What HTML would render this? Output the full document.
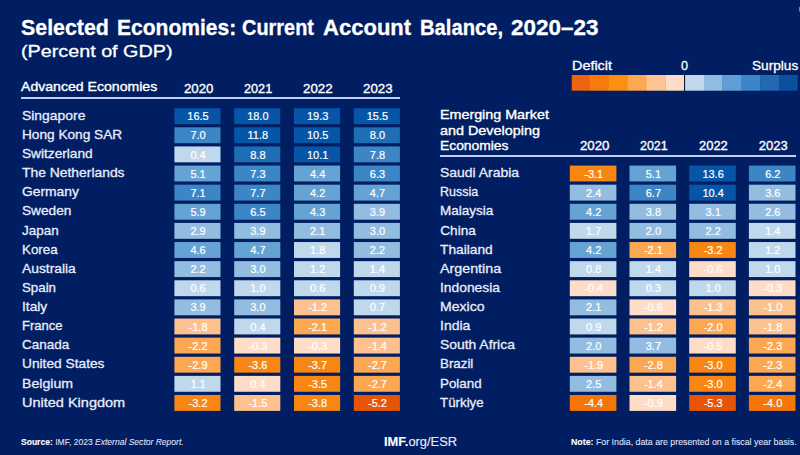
<!DOCTYPE html>
<html><head><meta charset="utf-8"><style>
html,body{margin:0;padding:0;}
body{width:800px;height:455px;overflow:hidden;background:#011e62;position:relative;font-family:"Liberation Sans",sans-serif;}
.t{position:absolute;white-space:nowrap;transform-origin:0 0;}
.b{position:absolute;}
</style></head><body>
<svg class="b" style="left:0;top:0" width="800" height="455" viewBox="0 0 800 455"><rect x="174.4" y="108.20" width="46.1" height="15.9" fill="#0655a6"/><rect x="234.2" y="108.20" width="46.1" height="15.9" fill="#0655a6"/><rect x="294.0" y="108.20" width="46.1" height="15.9" fill="#0655a6"/><rect x="353.8" y="108.20" width="46.1" height="15.9" fill="#0655a6"/><rect x="174.4" y="127.32" width="46.1" height="15.9" fill="#3d86c6"/><rect x="234.2" y="127.32" width="46.1" height="15.9" fill="#0655a6"/><rect x="294.0" y="127.32" width="46.1" height="15.9" fill="#0655a6"/><rect x="353.8" y="127.32" width="46.1" height="15.9" fill="#1f6db5"/><rect x="174.4" y="146.44" width="46.1" height="15.9" fill="#c0d8ec"/><rect x="234.2" y="146.44" width="46.1" height="15.9" fill="#1f6db5"/><rect x="294.0" y="146.44" width="46.1" height="15.9" fill="#0655a6"/><rect x="353.8" y="146.44" width="46.1" height="15.9" fill="#3d86c6"/><rect x="174.4" y="165.56" width="46.1" height="15.9" fill="#64a3d4"/><rect x="234.2" y="165.56" width="46.1" height="15.9" fill="#3d86c6"/><rect x="294.0" y="165.56" width="46.1" height="15.9" fill="#64a3d4"/><rect x="353.8" y="165.56" width="46.1" height="15.9" fill="#3d86c6"/><rect x="174.4" y="184.68" width="46.1" height="15.9" fill="#3d86c6"/><rect x="234.2" y="184.68" width="46.1" height="15.9" fill="#3d86c6"/><rect x="294.0" y="184.68" width="46.1" height="15.9" fill="#64a3d4"/><rect x="353.8" y="184.68" width="46.1" height="15.9" fill="#64a3d4"/><rect x="174.4" y="203.80" width="46.1" height="15.9" fill="#64a3d4"/><rect x="234.2" y="203.80" width="46.1" height="15.9" fill="#3d86c6"/><rect x="294.0" y="203.80" width="46.1" height="15.9" fill="#64a3d4"/><rect x="353.8" y="203.80" width="46.1" height="15.9" fill="#92bde0"/><rect x="174.4" y="222.92" width="46.1" height="15.9" fill="#92bde0"/><rect x="234.2" y="222.92" width="46.1" height="15.9" fill="#92bde0"/><rect x="294.0" y="222.92" width="46.1" height="15.9" fill="#92bde0"/><rect x="353.8" y="222.92" width="46.1" height="15.9" fill="#92bde0"/><rect x="174.4" y="242.04" width="46.1" height="15.9" fill="#64a3d4"/><rect x="234.2" y="242.04" width="46.1" height="15.9" fill="#64a3d4"/><rect x="294.0" y="242.04" width="46.1" height="15.9" fill="#c0d8ec"/><rect x="353.8" y="242.04" width="46.1" height="15.9" fill="#92bde0"/><rect x="174.4" y="261.16" width="46.1" height="15.9" fill="#92bde0"/><rect x="234.2" y="261.16" width="46.1" height="15.9" fill="#92bde0"/><rect x="294.0" y="261.16" width="46.1" height="15.9" fill="#c0d8ec"/><rect x="353.8" y="261.16" width="46.1" height="15.9" fill="#c0d8ec"/><rect x="174.4" y="280.28" width="46.1" height="15.9" fill="#c0d8ec"/><rect x="234.2" y="280.28" width="46.1" height="15.9" fill="#c0d8ec"/><rect x="294.0" y="280.28" width="46.1" height="15.9" fill="#c0d8ec"/><rect x="353.8" y="280.28" width="46.1" height="15.9" fill="#c0d8ec"/><rect x="174.4" y="299.40" width="46.1" height="15.9" fill="#92bde0"/><rect x="234.2" y="299.40" width="46.1" height="15.9" fill="#92bde0"/><rect x="294.0" y="299.40" width="46.1" height="15.9" fill="#fdc190"/><rect x="353.8" y="299.40" width="46.1" height="15.9" fill="#c0d8ec"/><rect x="174.4" y="318.52" width="46.1" height="15.9" fill="#fdc190"/><rect x="234.2" y="318.52" width="46.1" height="15.9" fill="#c0d8ec"/><rect x="294.0" y="318.52" width="46.1" height="15.9" fill="#fca852"/><rect x="353.8" y="318.52" width="46.1" height="15.9" fill="#fdc190"/><rect x="174.4" y="337.64" width="46.1" height="15.9" fill="#fca852"/><rect x="234.2" y="337.64" width="46.1" height="15.9" fill="#fddcc8"/><rect x="294.0" y="337.64" width="46.1" height="15.9" fill="#fddcc8"/><rect x="353.8" y="337.64" width="46.1" height="15.9" fill="#fdc190"/><rect x="174.4" y="356.76" width="46.1" height="15.9" fill="#fca852"/><rect x="234.2" y="356.76" width="46.1" height="15.9" fill="#f88613"/><rect x="294.0" y="356.76" width="46.1" height="15.9" fill="#f88613"/><rect x="353.8" y="356.76" width="46.1" height="15.9" fill="#fca852"/><rect x="174.4" y="375.88" width="46.1" height="15.9" fill="#c0d8ec"/><rect x="234.2" y="375.88" width="46.1" height="15.9" fill="#fddcc8"/><rect x="294.0" y="375.88" width="46.1" height="15.9" fill="#f88613"/><rect x="353.8" y="375.88" width="46.1" height="15.9" fill="#fca852"/><rect x="174.4" y="395.00" width="46.1" height="15.9" fill="#f88613"/><rect x="234.2" y="395.00" width="46.1" height="15.9" fill="#fdc190"/><rect x="294.0" y="395.00" width="46.1" height="15.9" fill="#f88613"/><rect x="353.8" y="395.00" width="46.1" height="15.9" fill="#e65506"/><rect x="569.8" y="165.56" width="46.6" height="15.9" fill="#f88613"/><rect x="629.5" y="165.56" width="46.6" height="15.9" fill="#64a3d4"/><rect x="689.2" y="165.56" width="46.6" height="15.9" fill="#0655a6"/><rect x="748.9" y="165.56" width="46.6" height="15.9" fill="#3d86c6"/><rect x="569.8" y="184.68" width="46.6" height="15.9" fill="#92bde0"/><rect x="629.5" y="184.68" width="46.6" height="15.9" fill="#3d86c6"/><rect x="689.2" y="184.68" width="46.6" height="15.9" fill="#0655a6"/><rect x="748.9" y="184.68" width="46.6" height="15.9" fill="#92bde0"/><rect x="569.8" y="203.80" width="46.6" height="15.9" fill="#64a3d4"/><rect x="629.5" y="203.80" width="46.6" height="15.9" fill="#92bde0"/><rect x="689.2" y="203.80" width="46.6" height="15.9" fill="#92bde0"/><rect x="748.9" y="203.80" width="46.6" height="15.9" fill="#92bde0"/><rect x="569.8" y="222.92" width="46.6" height="15.9" fill="#c0d8ec"/><rect x="629.5" y="222.92" width="46.6" height="15.9" fill="#92bde0"/><rect x="689.2" y="222.92" width="46.6" height="15.9" fill="#92bde0"/><rect x="748.9" y="222.92" width="46.6" height="15.9" fill="#c0d8ec"/><rect x="569.8" y="242.04" width="46.6" height="15.9" fill="#64a3d4"/><rect x="629.5" y="242.04" width="46.6" height="15.9" fill="#fca852"/><rect x="689.2" y="242.04" width="46.6" height="15.9" fill="#f88613"/><rect x="748.9" y="242.04" width="46.6" height="15.9" fill="#c0d8ec"/><rect x="569.8" y="261.16" width="46.6" height="15.9" fill="#c0d8ec"/><rect x="629.5" y="261.16" width="46.6" height="15.9" fill="#c0d8ec"/><rect x="689.2" y="261.16" width="46.6" height="15.9" fill="#fddcc8"/><rect x="748.9" y="261.16" width="46.6" height="15.9" fill="#c0d8ec"/><rect x="569.8" y="280.28" width="46.6" height="15.9" fill="#fddcc8"/><rect x="629.5" y="280.28" width="46.6" height="15.9" fill="#c0d8ec"/><rect x="689.2" y="280.28" width="46.6" height="15.9" fill="#c0d8ec"/><rect x="748.9" y="280.28" width="46.6" height="15.9" fill="#fddcc8"/><rect x="569.8" y="299.40" width="46.6" height="15.9" fill="#92bde0"/><rect x="629.5" y="299.40" width="46.6" height="15.9" fill="#fddcc8"/><rect x="689.2" y="299.40" width="46.6" height="15.9" fill="#fdc190"/><rect x="748.9" y="299.40" width="46.6" height="15.9" fill="#fdc190"/><rect x="569.8" y="318.52" width="46.6" height="15.9" fill="#c0d8ec"/><rect x="629.5" y="318.52" width="46.6" height="15.9" fill="#fdc190"/><rect x="689.2" y="318.52" width="46.6" height="15.9" fill="#fca852"/><rect x="748.9" y="318.52" width="46.6" height="15.9" fill="#fdc190"/><rect x="569.8" y="337.64" width="46.6" height="15.9" fill="#92bde0"/><rect x="629.5" y="337.64" width="46.6" height="15.9" fill="#92bde0"/><rect x="689.2" y="337.64" width="46.6" height="15.9" fill="#fddcc8"/><rect x="748.9" y="337.64" width="46.6" height="15.9" fill="#fca852"/><rect x="569.8" y="356.76" width="46.6" height="15.9" fill="#fdc190"/><rect x="629.5" y="356.76" width="46.6" height="15.9" fill="#fca852"/><rect x="689.2" y="356.76" width="46.6" height="15.9" fill="#f88613"/><rect x="748.9" y="356.76" width="46.6" height="15.9" fill="#fca852"/><rect x="569.8" y="375.88" width="46.6" height="15.9" fill="#92bde0"/><rect x="629.5" y="375.88" width="46.6" height="15.9" fill="#fdc190"/><rect x="689.2" y="375.88" width="46.6" height="15.9" fill="#f88613"/><rect x="748.9" y="375.88" width="46.6" height="15.9" fill="#fca852"/><rect x="569.8" y="395.00" width="46.6" height="15.9" fill="#f47508"/><rect x="629.5" y="395.00" width="46.6" height="15.9" fill="#fddcc8"/><rect x="689.2" y="395.00" width="46.6" height="15.9" fill="#e65506"/><rect x="748.9" y="395.00" width="46.6" height="15.9" fill="#f47508"/><rect x="571.75" y="75" width="18.30" height="15.7" fill="#ec6410"/><rect x="589.75" y="75" width="19.35" height="15.7" fill="#f67a0c"/><rect x="608.8" y="75" width="19.20" height="15.7" fill="#fa9012"/><rect x="627.7" y="75" width="19.30" height="15.7" fill="#fca852"/><rect x="646.7" y="75" width="19.10" height="15.7" fill="#fdc595"/><rect x="665.5" y="75" width="19.30" height="15.7" fill="#fddcc8"/><rect x="684.5" y="75" width="19.80" height="15.7" fill="#c2d8ee"/><rect x="704" y="75" width="18.70" height="15.7" fill="#8fbde2"/><rect x="722.4" y="75" width="19.40" height="15.7" fill="#5ea0d6"/><rect x="741.5" y="75" width="19.00" height="15.7" fill="#3a86c8"/><rect x="760.2" y="75" width="19.10" height="15.7" fill="#2568b2"/><rect x="779" y="75" width="18.70" height="15.7" fill="#0b509d"/><rect x="684" y="74.6" width="1.1" height="16.4" fill="#161a2e"/><rect x="798.9" y="7" width="1.1" height="4.5" fill="#6d80c4"/></svg>
<div class="t" style="left:20.80px;top:16.53px;font-size:22px;line-height:22px;font-weight:bold;transform:scale(0.9715,1.000);-webkit-text-stroke:0.3px #ffffff;color:#ffffff">Selected</div>
<div class="t" style="left:117.00px;top:16.53px;font-size:22px;line-height:22px;font-weight:bold;transform:scale(0.9560,1.000);-webkit-text-stroke:0.3px #ffffff;color:#ffffff">Economies:</div>
<div class="t" style="left:241.75px;top:16.53px;font-size:22px;line-height:22px;font-weight:bold;transform:scale(0.9053,1.000);-webkit-text-stroke:0.3px #ffffff;color:#ffffff">Current</div>
<div class="t" style="left:323.10px;top:16.53px;font-size:22px;line-height:22px;font-weight:bold;-webkit-text-stroke:0.3px #ffffff;color:#ffffff">Account</div>
<div class="t" style="left:419.90px;top:16.53px;font-size:22px;line-height:22px;font-weight:bold;transform:scale(0.9196,1.000);-webkit-text-stroke:0.3px #ffffff;color:#ffffff">Balance,</div>
<div class="t" style="left:510.60px;top:16.53px;font-size:22px;line-height:22px;font-weight:bold;transform:scale(1.0206,1.000);-webkit-text-stroke:0.3px #ffffff;color:#ffffff">2020–23</div>
<div class="t" style="left:21.00px;top:42.91px;font-size:17px;line-height:17px;transform:scale(1.1619,1.000);-webkit-text-stroke:0.3px #ffffff;color:#ffffff">(Percent of GDP)</div>
<div class="t" style="left:21.30px;top:80.40px;font-size:13px;line-height:13px;transform:scale(1.0832,1.000);-webkit-text-stroke:0.35px #ffffff;color:#ffffff">Advanced Economies</div>
<div class="t" style="left:183.80px;top:81.60px;font-size:13px;line-height:13px;transform:scale(1.0164,1.000);-webkit-text-stroke:0.35px #ffffff;color:#ffffff">2020</div>
<div class="t" style="left:243.50px;top:81.60px;font-size:13px;line-height:13px;transform:scale(0.9749,1.000);-webkit-text-stroke:0.35px #ffffff;color:#ffffff">2021</div>
<div class="t" style="left:303.20px;top:81.60px;font-size:13px;line-height:13px;transform:scale(1.0233,1.000);-webkit-text-stroke:0.35px #ffffff;color:#ffffff">2022</div>
<div class="t" style="left:363.20px;top:81.60px;font-size:13px;line-height:13px;transform:scale(1.0233,1.000);-webkit-text-stroke:0.35px #ffffff;color:#ffffff">2023</div>
<div class="b" style="left:21px;top:97.35px;width:379px;height:1.8px;background:#c0cdf5"></div>
<div class="t" style="left:22.30px;top:108.89px;font-size:13.6px;line-height:13.6px;transform:scale(1.0223,1.000);-webkit-text-stroke:0.3px #e8edfb;color:#e8edfb">Singapore</div>
<div class="t" style="left:187.34px;top:111.29px;font-size:11px;line-height:11px;-webkit-text-stroke:0.2px #ffffff;color:#ffffff">16.5</div>
<div class="t" style="left:247.14px;top:111.29px;font-size:11px;line-height:11px;-webkit-text-stroke:0.2px #ffffff;color:#ffffff">18.0</div>
<div class="t" style="left:306.94px;top:111.29px;font-size:11px;line-height:11px;-webkit-text-stroke:0.2px #ffffff;color:#ffffff">19.3</div>
<div class="t" style="left:366.74px;top:111.29px;font-size:11px;line-height:11px;-webkit-text-stroke:0.2px #ffffff;color:#ffffff">15.5</div>
<div class="t" style="left:22.30px;top:128.01px;font-size:13.6px;line-height:13.6px;transform:scale(1.0041,1.000);-webkit-text-stroke:0.3px #e8edfb;color:#e8edfb">Hong Kong SAR</div>
<div class="t" style="left:190.41px;top:130.41px;font-size:11px;line-height:11px;-webkit-text-stroke:0.2px #ffffff;color:#ffffff">7.0</div>
<div class="t" style="left:247.55px;top:130.41px;font-size:11px;line-height:11px;-webkit-text-stroke:0.2px #ffffff;color:#ffffff">11.8</div>
<div class="t" style="left:306.94px;top:130.41px;font-size:11px;line-height:11px;-webkit-text-stroke:0.2px #ffffff;color:#ffffff">10.5</div>
<div class="t" style="left:369.81px;top:130.41px;font-size:11px;line-height:11px;-webkit-text-stroke:0.2px #ffffff;color:#ffffff">8.0</div>
<div class="t" style="left:22.30px;top:147.13px;font-size:13.6px;line-height:13.6px;transform:scale(1.0055,1.000);-webkit-text-stroke:0.3px #e8edfb;color:#e8edfb">Switzerland</div>
<div class="t" style="left:190.41px;top:149.53px;font-size:11px;line-height:11px;-webkit-text-stroke:0.2px #ffffff;color:#ffffff">0.4</div>
<div class="t" style="left:250.21px;top:149.53px;font-size:11px;line-height:11px;-webkit-text-stroke:0.2px #ffffff;color:#ffffff">8.8</div>
<div class="t" style="left:306.94px;top:149.53px;font-size:11px;line-height:11px;-webkit-text-stroke:0.2px #ffffff;color:#ffffff">10.1</div>
<div class="t" style="left:369.81px;top:149.53px;font-size:11px;line-height:11px;-webkit-text-stroke:0.2px #ffffff;color:#ffffff">7.8</div>
<div class="t" style="left:22.30px;top:166.25px;font-size:13.6px;line-height:13.6px;transform:scale(1.0205,1.000);-webkit-text-stroke:0.3px #e8edfb;color:#e8edfb">The Netherlands</div>
<div class="t" style="left:190.41px;top:168.65px;font-size:11px;line-height:11px;-webkit-text-stroke:0.2px #ffffff;color:#ffffff">5.1</div>
<div class="t" style="left:250.21px;top:168.65px;font-size:11px;line-height:11px;-webkit-text-stroke:0.2px #ffffff;color:#ffffff">7.3</div>
<div class="t" style="left:310.01px;top:168.65px;font-size:11px;line-height:11px;-webkit-text-stroke:0.2px #ffffff;color:#ffffff">4.4</div>
<div class="t" style="left:369.81px;top:168.65px;font-size:11px;line-height:11px;-webkit-text-stroke:0.2px #ffffff;color:#ffffff">6.3</div>
<div class="t" style="left:22.30px;top:185.37px;font-size:13.6px;line-height:13.6px;transform:scale(1.0173,1.000);-webkit-text-stroke:0.3px #e8edfb;color:#e8edfb">Germany</div>
<div class="t" style="left:190.41px;top:187.77px;font-size:11px;line-height:11px;-webkit-text-stroke:0.2px #ffffff;color:#ffffff">7.1</div>
<div class="t" style="left:250.21px;top:187.77px;font-size:11px;line-height:11px;-webkit-text-stroke:0.2px #ffffff;color:#ffffff">7.7</div>
<div class="t" style="left:310.01px;top:187.77px;font-size:11px;line-height:11px;-webkit-text-stroke:0.2px #ffffff;color:#ffffff">4.2</div>
<div class="t" style="left:369.81px;top:187.77px;font-size:11px;line-height:11px;-webkit-text-stroke:0.2px #ffffff;color:#ffffff">4.7</div>
<div class="t" style="left:22.30px;top:204.49px;font-size:13.6px;line-height:13.6px;transform:scale(1.0048,1.000);-webkit-text-stroke:0.3px #e8edfb;color:#e8edfb">Sweden</div>
<div class="t" style="left:190.41px;top:206.89px;font-size:11px;line-height:11px;-webkit-text-stroke:0.2px #ffffff;color:#ffffff">5.9</div>
<div class="t" style="left:250.21px;top:206.89px;font-size:11px;line-height:11px;-webkit-text-stroke:0.2px #ffffff;color:#ffffff">6.5</div>
<div class="t" style="left:310.01px;top:206.89px;font-size:11px;line-height:11px;-webkit-text-stroke:0.2px #ffffff;color:#ffffff">4.3</div>
<div class="t" style="left:369.81px;top:206.89px;font-size:11px;line-height:11px;-webkit-text-stroke:0.2px #ffffff;color:#ffffff">3.9</div>
<div class="t" style="left:22.30px;top:223.61px;font-size:13.6px;line-height:13.6px;transform:scale(0.9903,1.000);-webkit-text-stroke:0.3px #e8edfb;color:#e8edfb">Japan</div>
<div class="t" style="left:190.41px;top:226.01px;font-size:11px;line-height:11px;-webkit-text-stroke:0.2px #ffffff;color:#ffffff">2.9</div>
<div class="t" style="left:250.21px;top:226.01px;font-size:11px;line-height:11px;-webkit-text-stroke:0.2px #ffffff;color:#ffffff">3.9</div>
<div class="t" style="left:310.01px;top:226.01px;font-size:11px;line-height:11px;-webkit-text-stroke:0.2px #ffffff;color:#ffffff">2.1</div>
<div class="t" style="left:369.81px;top:226.01px;font-size:11px;line-height:11px;-webkit-text-stroke:0.2px #ffffff;color:#ffffff">3.0</div>
<div class="t" style="left:22.30px;top:242.73px;font-size:13.6px;line-height:13.6px;transform:scale(0.9804,1.000);-webkit-text-stroke:0.3px #e8edfb;color:#e8edfb">Korea</div>
<div class="t" style="left:190.41px;top:245.13px;font-size:11px;line-height:11px;-webkit-text-stroke:0.2px #ffffff;color:#ffffff">4.6</div>
<div class="t" style="left:250.21px;top:245.13px;font-size:11px;line-height:11px;-webkit-text-stroke:0.2px #ffffff;color:#ffffff">4.7</div>
<div class="t" style="left:310.01px;top:245.13px;font-size:11px;line-height:11px;-webkit-text-stroke:0.2px #ffffff;color:#ffffff">1.8</div>
<div class="t" style="left:369.81px;top:245.13px;font-size:11px;line-height:11px;-webkit-text-stroke:0.2px #ffffff;color:#ffffff">2.2</div>
<div class="t" style="left:22.30px;top:261.85px;font-size:13.6px;line-height:13.6px;transform:scale(1.0163,1.000);-webkit-text-stroke:0.3px #e8edfb;color:#e8edfb">Australia</div>
<div class="t" style="left:190.41px;top:264.25px;font-size:11px;line-height:11px;-webkit-text-stroke:0.2px #ffffff;color:#ffffff">2.2</div>
<div class="t" style="left:250.21px;top:264.25px;font-size:11px;line-height:11px;-webkit-text-stroke:0.2px #ffffff;color:#ffffff">3.0</div>
<div class="t" style="left:310.01px;top:264.25px;font-size:11px;line-height:11px;-webkit-text-stroke:0.2px #ffffff;color:#ffffff">1.2</div>
<div class="t" style="left:369.81px;top:264.25px;font-size:11px;line-height:11px;-webkit-text-stroke:0.2px #ffffff;color:#ffffff">1.4</div>
<div class="t" style="left:22.30px;top:280.97px;font-size:13.6px;line-height:13.6px;transform:scale(0.9775,1.000);-webkit-text-stroke:0.3px #e8edfb;color:#e8edfb">Spain</div>
<div class="t" style="left:190.41px;top:283.37px;font-size:11px;line-height:11px;-webkit-text-stroke:0.2px #ffffff;color:#ffffff">0.6</div>
<div class="t" style="left:250.21px;top:283.37px;font-size:11px;line-height:11px;-webkit-text-stroke:0.2px #ffffff;color:#ffffff">1.0</div>
<div class="t" style="left:310.01px;top:283.37px;font-size:11px;line-height:11px;-webkit-text-stroke:0.2px #ffffff;color:#ffffff">0.6</div>
<div class="t" style="left:369.81px;top:283.37px;font-size:11px;line-height:11px;-webkit-text-stroke:0.2px #ffffff;color:#ffffff">0.9</div>
<div class="t" style="left:22.30px;top:300.09px;font-size:13.6px;line-height:13.6px;transform:scale(1.0098,1.000);-webkit-text-stroke:0.3px #e8edfb;color:#e8edfb">Italy</div>
<div class="t" style="left:190.41px;top:302.49px;font-size:11px;line-height:11px;-webkit-text-stroke:0.2px #ffffff;color:#ffffff">3.9</div>
<div class="t" style="left:250.21px;top:302.49px;font-size:11px;line-height:11px;-webkit-text-stroke:0.2px #ffffff;color:#ffffff">3.0</div>
<div class="t" style="left:308.18px;top:302.49px;font-size:11px;line-height:11px;-webkit-text-stroke:0.2px #ffffff;color:#ffffff">-1.2</div>
<div class="t" style="left:369.81px;top:302.49px;font-size:11px;line-height:11px;-webkit-text-stroke:0.2px #ffffff;color:#ffffff">0.7</div>
<div class="t" style="left:22.30px;top:319.21px;font-size:13.6px;line-height:13.6px;transform:scale(0.9591,1.000);-webkit-text-stroke:0.3px #e8edfb;color:#e8edfb">France</div>
<div class="t" style="left:188.58px;top:321.61px;font-size:11px;line-height:11px;-webkit-text-stroke:0.2px #ffffff;color:#ffffff">-1.8</div>
<div class="t" style="left:250.21px;top:321.61px;font-size:11px;line-height:11px;-webkit-text-stroke:0.2px #ffffff;color:#ffffff">0.4</div>
<div class="t" style="left:308.18px;top:321.61px;font-size:11px;line-height:11px;-webkit-text-stroke:0.2px #ffffff;color:#ffffff">-2.1</div>
<div class="t" style="left:367.98px;top:321.61px;font-size:11px;line-height:11px;-webkit-text-stroke:0.2px #ffffff;color:#ffffff">-1.2</div>
<div class="t" style="left:22.30px;top:338.33px;font-size:13.6px;line-height:13.6px;transform:scale(0.9902,1.000);-webkit-text-stroke:0.3px #e8edfb;color:#e8edfb">Canada</div>
<div class="t" style="left:188.58px;top:340.73px;font-size:11px;line-height:11px;-webkit-text-stroke:0.2px #ffffff;color:#ffffff">-2.2</div>
<div class="t" style="left:248.38px;top:340.73px;font-size:11px;line-height:11px;-webkit-text-stroke:0.2px #ffffff;color:#ffffff">-0.3</div>
<div class="t" style="left:308.18px;top:340.73px;font-size:11px;line-height:11px;-webkit-text-stroke:0.2px #ffffff;color:#ffffff">-0.3</div>
<div class="t" style="left:367.98px;top:340.73px;font-size:11px;line-height:11px;-webkit-text-stroke:0.2px #ffffff;color:#ffffff">-1.4</div>
<div class="t" style="left:22.30px;top:357.45px;font-size:13.6px;line-height:13.6px;transform:scale(1.0106,1.000);-webkit-text-stroke:0.3px #e8edfb;color:#e8edfb">United States</div>
<div class="t" style="left:188.58px;top:359.85px;font-size:11px;line-height:11px;-webkit-text-stroke:0.2px #ffffff;color:#ffffff">-2.9</div>
<div class="t" style="left:248.38px;top:359.85px;font-size:11px;line-height:11px;-webkit-text-stroke:0.2px #ffffff;color:#ffffff">-3.6</div>
<div class="t" style="left:308.18px;top:359.85px;font-size:11px;line-height:11px;-webkit-text-stroke:0.2px #ffffff;color:#ffffff">-3.7</div>
<div class="t" style="left:367.98px;top:359.85px;font-size:11px;line-height:11px;-webkit-text-stroke:0.2px #ffffff;color:#ffffff">-2.7</div>
<div class="t" style="left:22.30px;top:376.57px;font-size:13.6px;line-height:13.6px;transform:scale(1.0381,1.000);-webkit-text-stroke:0.3px #e8edfb;color:#e8edfb">Belgium</div>
<div class="t" style="left:190.41px;top:378.97px;font-size:11px;line-height:11px;-webkit-text-stroke:0.2px #ffffff;color:#ffffff">1.1</div>
<div class="t" style="left:250.21px;top:378.97px;font-size:11px;line-height:11px;-webkit-text-stroke:0.2px #ffffff;color:#ffffff">0.4</div>
<div class="t" style="left:308.18px;top:378.97px;font-size:11px;line-height:11px;-webkit-text-stroke:0.2px #ffffff;color:#ffffff">-3.5</div>
<div class="t" style="left:367.98px;top:378.97px;font-size:11px;line-height:11px;-webkit-text-stroke:0.2px #ffffff;color:#ffffff">-2.7</div>
<div class="t" style="left:22.30px;top:395.69px;font-size:13.6px;line-height:13.6px;transform:scale(1.0665,1.000);-webkit-text-stroke:0.3px #e8edfb;color:#e8edfb">United Kingdom</div>
<div class="t" style="left:188.58px;top:398.09px;font-size:11px;line-height:11px;-webkit-text-stroke:0.2px #ffffff;color:#ffffff">-3.2</div>
<div class="t" style="left:248.38px;top:398.09px;font-size:11px;line-height:11px;-webkit-text-stroke:0.2px #ffffff;color:#ffffff">-1.5</div>
<div class="t" style="left:308.18px;top:398.09px;font-size:11px;line-height:11px;-webkit-text-stroke:0.2px #ffffff;color:#ffffff">-3.8</div>
<div class="t" style="left:367.98px;top:398.09px;font-size:11px;line-height:11px;-webkit-text-stroke:0.2px #ffffff;color:#ffffff">-5.2</div>
<div class="t" style="left:440.30px;top:108.30px;font-size:13px;line-height:13px;transform:scale(1.1001,1.000);-webkit-text-stroke:0.35px #ffffff;color:#ffffff">Emerging Market</div>
<div class="t" style="left:440.30px;top:123.65px;font-size:13px;line-height:13px;transform:scale(1.1057,1.000);-webkit-text-stroke:0.35px #ffffff;color:#ffffff">and Developing</div>
<div class="t" style="left:440.30px;top:139.00px;font-size:13px;line-height:13px;transform:scale(1.0650,1.000);-webkit-text-stroke:0.35px #ffffff;color:#ffffff">Economies</div>
<div class="t" style="left:579.75px;top:139.10px;font-size:13px;line-height:13px;transform:scale(1.0182,1.000);-webkit-text-stroke:0.35px #ffffff;color:#ffffff">2020</div>
<div class="t" style="left:640.00px;top:139.10px;font-size:13px;line-height:13px;transform:scale(0.9542,1.000);-webkit-text-stroke:0.35px #ffffff;color:#ffffff">2021</div>
<div class="t" style="left:699.20px;top:139.10px;font-size:13px;line-height:13px;transform:scale(0.9957,1.000);-webkit-text-stroke:0.35px #ffffff;color:#ffffff">2022</div>
<div class="t" style="left:758.80px;top:139.10px;font-size:13px;line-height:13px;-webkit-text-stroke:0.35px #ffffff;color:#ffffff">2023</div>
<div class="b" style="left:439.6px;top:154.95px;width:356.4px;height:1.8px;background:#c0cdf5"></div>
<div class="t" style="left:440.30px;top:166.25px;font-size:13.6px;line-height:13.6px;transform:scale(1.0253,1.000);-webkit-text-stroke:0.3px #e8edfb;color:#e8edfb">Saudi Arabia</div>
<div class="t" style="left:584.23px;top:168.65px;font-size:11px;line-height:11px;-webkit-text-stroke:0.2px #ffffff;color:#ffffff">-3.1</div>
<div class="t" style="left:645.75px;top:168.65px;font-size:11px;line-height:11px;-webkit-text-stroke:0.2px #ffffff;color:#ffffff">5.1</div>
<div class="t" style="left:702.39px;top:168.65px;font-size:11px;line-height:11px;-webkit-text-stroke:0.2px #ffffff;color:#ffffff">13.6</div>
<div class="t" style="left:765.15px;top:168.65px;font-size:11px;line-height:11px;-webkit-text-stroke:0.2px #ffffff;color:#ffffff">6.2</div>
<div class="t" style="left:440.30px;top:185.37px;font-size:13.6px;line-height:13.6px;transform:scale(0.9187,1.000);-webkit-text-stroke:0.3px #e8edfb;color:#e8edfb">Russia</div>
<div class="t" style="left:586.05px;top:187.77px;font-size:11px;line-height:11px;-webkit-text-stroke:0.2px #ffffff;color:#ffffff">2.4</div>
<div class="t" style="left:645.75px;top:187.77px;font-size:11px;line-height:11px;-webkit-text-stroke:0.2px #ffffff;color:#ffffff">6.7</div>
<div class="t" style="left:702.39px;top:187.77px;font-size:11px;line-height:11px;-webkit-text-stroke:0.2px #ffffff;color:#ffffff">10.4</div>
<div class="t" style="left:765.15px;top:187.77px;font-size:11px;line-height:11px;-webkit-text-stroke:0.2px #ffffff;color:#ffffff">3.6</div>
<div class="t" style="left:440.30px;top:204.49px;font-size:13.6px;line-height:13.6px;transform:scale(0.9928,1.000);-webkit-text-stroke:0.3px #e8edfb;color:#e8edfb">Malaysia</div>
<div class="t" style="left:586.05px;top:206.89px;font-size:11px;line-height:11px;-webkit-text-stroke:0.2px #ffffff;color:#ffffff">4.2</div>
<div class="t" style="left:645.75px;top:206.89px;font-size:11px;line-height:11px;-webkit-text-stroke:0.2px #ffffff;color:#ffffff">3.8</div>
<div class="t" style="left:705.46px;top:206.89px;font-size:11px;line-height:11px;-webkit-text-stroke:0.2px #ffffff;color:#ffffff">3.1</div>
<div class="t" style="left:765.15px;top:206.89px;font-size:11px;line-height:11px;-webkit-text-stroke:0.2px #ffffff;color:#ffffff">2.6</div>
<div class="t" style="left:440.30px;top:223.61px;font-size:13.6px;line-height:13.6px;-webkit-text-stroke:0.3px #e8edfb;color:#e8edfb">China</div>
<div class="t" style="left:586.05px;top:226.01px;font-size:11px;line-height:11px;-webkit-text-stroke:0.2px #ffffff;color:#ffffff">1.7</div>
<div class="t" style="left:645.75px;top:226.01px;font-size:11px;line-height:11px;-webkit-text-stroke:0.2px #ffffff;color:#ffffff">2.0</div>
<div class="t" style="left:705.46px;top:226.01px;font-size:11px;line-height:11px;-webkit-text-stroke:0.2px #ffffff;color:#ffffff">2.2</div>
<div class="t" style="left:765.15px;top:226.01px;font-size:11px;line-height:11px;-webkit-text-stroke:0.2px #ffffff;color:#ffffff">1.4</div>
<div class="t" style="left:440.30px;top:242.73px;font-size:13.6px;line-height:13.6px;transform:scale(1.0104,1.000);-webkit-text-stroke:0.3px #e8edfb;color:#e8edfb">Thailand</div>
<div class="t" style="left:586.05px;top:245.13px;font-size:11px;line-height:11px;-webkit-text-stroke:0.2px #ffffff;color:#ffffff">4.2</div>
<div class="t" style="left:643.93px;top:245.13px;font-size:11px;line-height:11px;-webkit-text-stroke:0.2px #ffffff;color:#ffffff">-2.1</div>
<div class="t" style="left:703.63px;top:245.13px;font-size:11px;line-height:11px;-webkit-text-stroke:0.2px #ffffff;color:#ffffff">-3.2</div>
<div class="t" style="left:765.15px;top:245.13px;font-size:11px;line-height:11px;-webkit-text-stroke:0.2px #ffffff;color:#ffffff">1.2</div>
<div class="t" style="left:440.30px;top:261.85px;font-size:13.6px;line-height:13.6px;transform:scale(1.0508,1.000);-webkit-text-stroke:0.3px #e8edfb;color:#e8edfb">Argentina</div>
<div class="t" style="left:586.05px;top:264.25px;font-size:11px;line-height:11px;-webkit-text-stroke:0.2px #ffffff;color:#ffffff">0.8</div>
<div class="t" style="left:645.75px;top:264.25px;font-size:11px;line-height:11px;-webkit-text-stroke:0.2px #ffffff;color:#ffffff">1.4</div>
<div class="t" style="left:703.63px;top:264.25px;font-size:11px;line-height:11px;-webkit-text-stroke:0.2px #ffffff;color:#ffffff">-0.6</div>
<div class="t" style="left:765.15px;top:264.25px;font-size:11px;line-height:11px;-webkit-text-stroke:0.2px #ffffff;color:#ffffff">1.0</div>
<div class="t" style="left:440.30px;top:280.97px;font-size:13.6px;line-height:13.6px;transform:scale(1.0171,1.000);-webkit-text-stroke:0.3px #e8edfb;color:#e8edfb">Indonesia</div>
<div class="t" style="left:584.23px;top:283.37px;font-size:11px;line-height:11px;-webkit-text-stroke:0.2px #ffffff;color:#ffffff">-0.4</div>
<div class="t" style="left:645.75px;top:283.37px;font-size:11px;line-height:11px;-webkit-text-stroke:0.2px #ffffff;color:#ffffff">0.3</div>
<div class="t" style="left:705.46px;top:283.37px;font-size:11px;line-height:11px;-webkit-text-stroke:0.2px #ffffff;color:#ffffff">1.0</div>
<div class="t" style="left:763.33px;top:283.37px;font-size:11px;line-height:11px;-webkit-text-stroke:0.2px #ffffff;color:#ffffff">-0.3</div>
<div class="t" style="left:440.30px;top:300.09px;font-size:13.6px;line-height:13.6px;transform:scale(1.0353,1.000);-webkit-text-stroke:0.3px #e8edfb;color:#e8edfb">Mexico</div>
<div class="t" style="left:586.05px;top:302.49px;font-size:11px;line-height:11px;-webkit-text-stroke:0.2px #ffffff;color:#ffffff">2.1</div>
<div class="t" style="left:643.93px;top:302.49px;font-size:11px;line-height:11px;-webkit-text-stroke:0.2px #ffffff;color:#ffffff">-0.6</div>
<div class="t" style="left:703.63px;top:302.49px;font-size:11px;line-height:11px;-webkit-text-stroke:0.2px #ffffff;color:#ffffff">-1.3</div>
<div class="t" style="left:763.33px;top:302.49px;font-size:11px;line-height:11px;-webkit-text-stroke:0.2px #ffffff;color:#ffffff">-1.0</div>
<div class="t" style="left:440.30px;top:319.21px;font-size:13.6px;line-height:13.6px;transform:scale(1.0267,1.000);-webkit-text-stroke:0.3px #e8edfb;color:#e8edfb">India</div>
<div class="t" style="left:586.05px;top:321.61px;font-size:11px;line-height:11px;-webkit-text-stroke:0.2px #ffffff;color:#ffffff">0.9</div>
<div class="t" style="left:643.93px;top:321.61px;font-size:11px;line-height:11px;-webkit-text-stroke:0.2px #ffffff;color:#ffffff">-1.2</div>
<div class="t" style="left:703.63px;top:321.61px;font-size:11px;line-height:11px;-webkit-text-stroke:0.2px #ffffff;color:#ffffff">-2.0</div>
<div class="t" style="left:763.33px;top:321.61px;font-size:11px;line-height:11px;-webkit-text-stroke:0.2px #ffffff;color:#ffffff">-1.8</div>
<div class="t" style="left:440.30px;top:338.33px;font-size:13.6px;line-height:13.6px;transform:scale(1.0213,1.000);-webkit-text-stroke:0.3px #e8edfb;color:#e8edfb">South Africa</div>
<div class="t" style="left:586.05px;top:340.73px;font-size:11px;line-height:11px;-webkit-text-stroke:0.2px #ffffff;color:#ffffff">2.0</div>
<div class="t" style="left:645.75px;top:340.73px;font-size:11px;line-height:11px;-webkit-text-stroke:0.2px #ffffff;color:#ffffff">3.7</div>
<div class="t" style="left:703.63px;top:340.73px;font-size:11px;line-height:11px;-webkit-text-stroke:0.2px #ffffff;color:#ffffff">-0.5</div>
<div class="t" style="left:763.33px;top:340.73px;font-size:11px;line-height:11px;-webkit-text-stroke:0.2px #ffffff;color:#ffffff">-2.3</div>
<div class="t" style="left:440.30px;top:357.45px;font-size:13.6px;line-height:13.6px;transform:scale(0.9794,1.000);-webkit-text-stroke:0.3px #e8edfb;color:#e8edfb">Brazil</div>
<div class="t" style="left:584.23px;top:359.85px;font-size:11px;line-height:11px;-webkit-text-stroke:0.2px #ffffff;color:#ffffff">-1.9</div>
<div class="t" style="left:643.93px;top:359.85px;font-size:11px;line-height:11px;-webkit-text-stroke:0.2px #ffffff;color:#ffffff">-2.8</div>
<div class="t" style="left:703.63px;top:359.85px;font-size:11px;line-height:11px;-webkit-text-stroke:0.2px #ffffff;color:#ffffff">-3.0</div>
<div class="t" style="left:763.33px;top:359.85px;font-size:11px;line-height:11px;-webkit-text-stroke:0.2px #ffffff;color:#ffffff">-2.3</div>
<div class="t" style="left:440.30px;top:376.57px;font-size:13.6px;line-height:13.6px;transform:scale(0.9820,1.000);-webkit-text-stroke:0.3px #e8edfb;color:#e8edfb">Poland</div>
<div class="t" style="left:586.05px;top:378.97px;font-size:11px;line-height:11px;-webkit-text-stroke:0.2px #ffffff;color:#ffffff">2.5</div>
<div class="t" style="left:643.93px;top:378.97px;font-size:11px;line-height:11px;-webkit-text-stroke:0.2px #ffffff;color:#ffffff">-1.4</div>
<div class="t" style="left:703.63px;top:378.97px;font-size:11px;line-height:11px;-webkit-text-stroke:0.2px #ffffff;color:#ffffff">-3.0</div>
<div class="t" style="left:763.33px;top:378.97px;font-size:11px;line-height:11px;-webkit-text-stroke:0.2px #ffffff;color:#ffffff">-2.4</div>
<div class="t" style="left:440.30px;top:395.69px;font-size:13.6px;line-height:13.6px;transform:scale(0.9804,1.000);-webkit-text-stroke:0.3px #e8edfb;color:#e8edfb">Türkiye</div>
<div class="t" style="left:584.23px;top:398.09px;font-size:11px;line-height:11px;-webkit-text-stroke:0.2px #ffffff;color:#ffffff">-4.4</div>
<div class="t" style="left:643.93px;top:398.09px;font-size:11px;line-height:11px;-webkit-text-stroke:0.2px #ffffff;color:#ffffff">-0.9</div>
<div class="t" style="left:703.63px;top:398.09px;font-size:11px;line-height:11px;-webkit-text-stroke:0.2px #ffffff;color:#ffffff">-5.3</div>
<div class="t" style="left:763.33px;top:398.09px;font-size:11px;line-height:11px;-webkit-text-stroke:0.2px #ffffff;color:#ffffff">-4.0</div>
<div class="t" style="left:572.00px;top:58.80px;font-size:13px;line-height:13px;transform:scale(1.1078,1.000);-webkit-text-stroke:0.3px #ffffff;color:#ffffff">Deficit</div>
<div class="t" style="left:681.00px;top:59.00px;font-size:13px;line-height:13px;transform:scale(0.9702,1.000);-webkit-text-stroke:0.3px #ffffff;color:#ffffff">0</div>
<div class="t" style="left:751.80px;top:59.00px;font-size:13px;line-height:13px;transform:scale(1.0483,1.000);-webkit-text-stroke:0.3px #ffffff;color:#ffffff">Surplus</div>
<div class="t" style="left:20.70px;top:436.76px;font-size:9.5px;line-height:9.5px;transform:scale(0.8983,1.000);-webkit-text-stroke:0.1px #ffffff;color:#ffffff"><b>Source:</b> <span style="color:#d4dbf3">IMF, 2023 <i>External Sector Report.</i></span></div>
<div class="t" style="left:383.75px;top:436.14px;font-size:12px;line-height:12px;transform:scale(1.0753,1.000);-webkit-text-stroke:0.1px #ffffff;color:#ffffff"><b>IMF.</b><span style="color:#e3e8f8">org/ESR</span></div>
<div class="t" style="left:571.40px;top:436.96px;font-size:9.5px;line-height:9.5px;transform:scale(0.9267,1.000);-webkit-text-stroke:0.1px #ffffff;color:#ffffff"><b>Note:</b> <span style="color:#d4dbf3">For India, data are presented on a fiscal year basis.</span></div>
</body></html>
